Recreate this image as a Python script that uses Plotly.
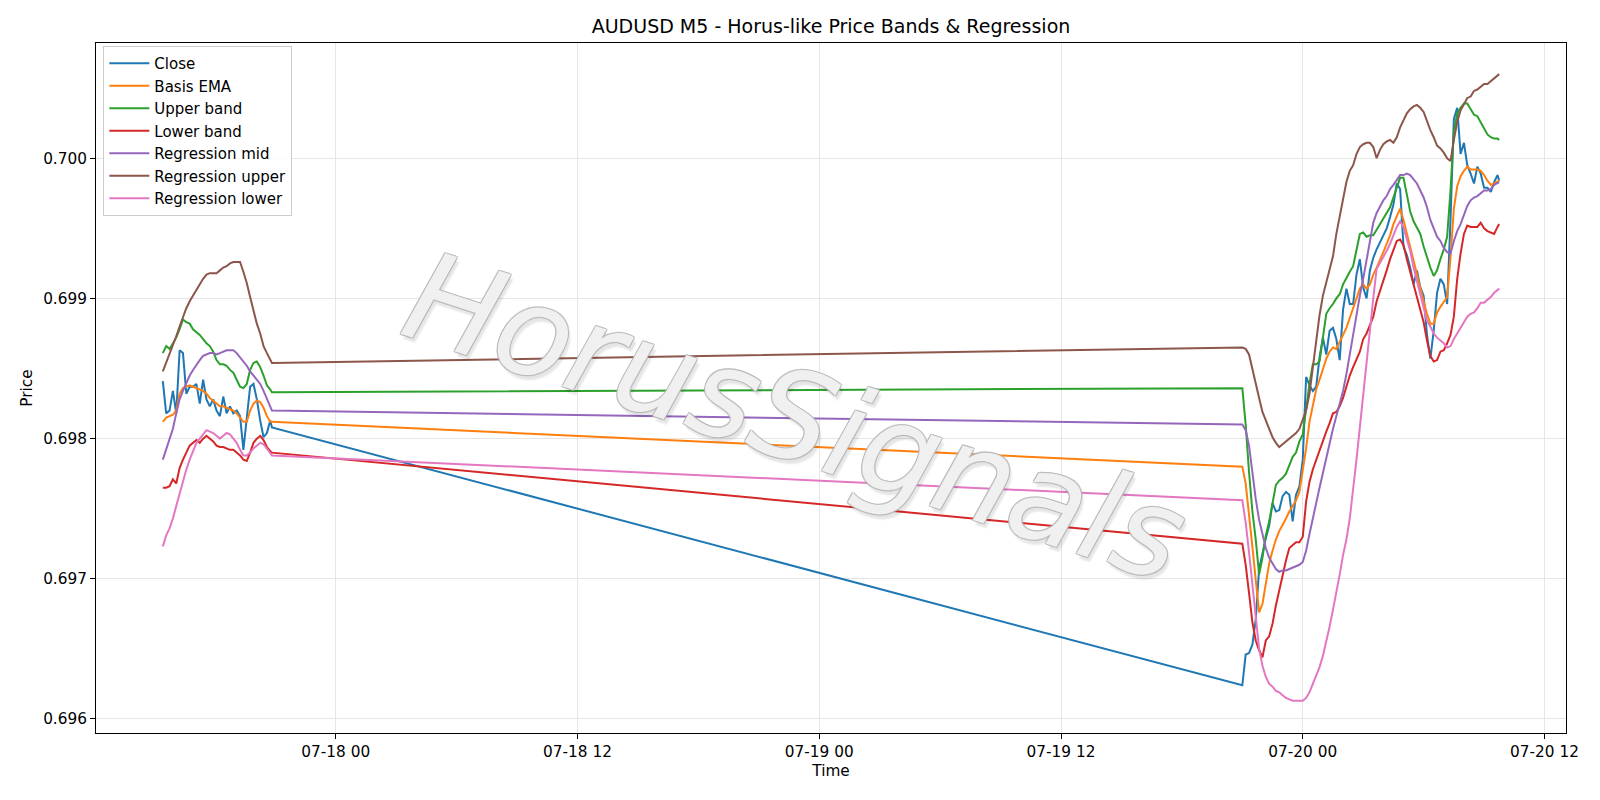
import pandas as pd
import plotly.graph_objects as go

# ---- time grid (M5 data sampled every 10 minutes) ----
t_left = list(pd.date_range("2020-07-17 15:25", "2020-07-17 20:45", freq="10min")) + [pd.Timestamp("2020-07-17 20:50")]
t_right = list(pd.date_range("2020-07-19 21:00", "2020-07-20 09:40", freq="10min")) + [pd.Timestamp("2020-07-20 09:45")]
times = t_left + t_right

close = [0.69841, 0.69818, 0.69820, 0.69834, 0.69818, 0.69863, 0.69861, 0.69832, 0.69837, 0.69837,
         0.69839, 0.69825, 0.69842, 0.69828, 0.69823, 0.69828, 0.69820, 0.69816, 0.69830, 0.69818,
         0.69823, 0.69818, 0.69820, 0.69816, 0.69792, 0.69813, 0.69837, 0.69839, 0.69828, 0.69813,
         0.69801, 0.69804, 0.69813, 0.69808,
         0.69624, 0.69646, 0.69647, 0.69653, 0.69671, 0.69707, 0.69719, 0.69729, 0.69738, 0.69754,
         0.69748, 0.69749, 0.69759, 0.69762, 0.69760, 0.69741, 0.69760, 0.69766,
         0.69785, 0.69844, 0.69838, 0.69834, 0.69837, 0.69858, 0.69872, 0.69860, 0.69877, 0.69879,
         0.69871, 0.69856, 0.69892, 0.69907, 0.69896, 0.69896, 0.69917, 0.69928, 0.69908, 0.69900,
         0.69920, 0.69929, 0.69935, 0.69940, 0.69944, 0.69950, 0.69958, 0.69967, 0.69982, 0.69978,
         0.69937, 0.69931, 0.69922, 0.69910, 0.69920, 0.69908, 0.69902, 0.69874, 0.69857, 0.69877,
         0.69904, 0.69914, 0.69910, 0.69896, 0.69956, 0.70028, 0.70036, 0.70003, 0.70011, 0.69995,
         0.69989, 0.69982, 0.69994, 0.69989, 0.69979, 0.69979, 0.69976, 0.69983, 0.69988, 0.69984]

basis_ema = [0.69812, 0.69815, 0.69816, 0.69817, 0.69820, 0.69832, 0.69836, 0.69837, 0.69838, 0.69837,
             0.69836, 0.69835, 0.69834, 0.69832, 0.69829, 0.69827, 0.69825, 0.69823, 0.69823, 0.69822,
             0.69821, 0.69820, 0.69818, 0.69815, 0.69812, 0.69812, 0.69820, 0.69825, 0.69827, 0.69826,
             0.69822, 0.69816, 0.69812, 0.69812,
             0.69780, 0.69768, 0.69747, 0.69723, 0.69699, 0.69676, 0.69682, 0.69697, 0.69711, 0.69720,
             0.69728, 0.69734, 0.69738, 0.69743, 0.69748, 0.69752, 0.69756, 0.69762,
             0.69776, 0.69793, 0.69812, 0.69824, 0.69835, 0.69842, 0.69849, 0.69857, 0.69862, 0.69865,
             0.69864, 0.69869, 0.69874, 0.69879, 0.69886, 0.69893, 0.69900, 0.69907, 0.69910, 0.69907,
             0.69910, 0.69917, 0.69922, 0.69927, 0.69933, 0.69939, 0.69945, 0.69953, 0.69959, 0.69964,
             0.69956, 0.69946, 0.69936, 0.69927, 0.69917, 0.69908, 0.69898, 0.69889, 0.69882, 0.69882,
             0.69890, 0.69894, 0.69898, 0.69901, 0.69929, 0.69964, 0.69980, 0.69987, 0.69991, 0.69994,
             0.69992, 0.69992, 0.69992, 0.69991, 0.69988, 0.69984, 0.69981, 0.69982, 0.69983, 0.69984]

upper_band = [0.69861, 0.69866, 0.69864, 0.69868, 0.69872, 0.69878, 0.69885, 0.69883, 0.69882, 0.69878,
              0.69876, 0.69874, 0.69871, 0.69868, 0.69866, 0.69862, 0.69856, 0.69853, 0.69853, 0.69852,
              0.69849, 0.69847, 0.69842, 0.69837, 0.69836, 0.69839, 0.69849, 0.69854, 0.69855, 0.69851,
              0.69845, 0.69838, 0.69835, 0.69833,
              0.69836, 0.69810, 0.69776, 0.69748, 0.69728, 0.69703, 0.69715, 0.69731, 0.69741, 0.69755,
              0.69767, 0.69770, 0.69772, 0.69775, 0.69781, 0.69787, 0.69790, 0.69798,
              0.69803, 0.69822, 0.69839, 0.69853, 0.69853, 0.69855, 0.69873, 0.69889, 0.69893, 0.69896,
              0.69900, 0.69903, 0.69910, 0.69915, 0.69919, 0.69923, 0.69934, 0.69946, 0.69947, 0.69944,
              0.69945, 0.69945, 0.69949, 0.69953, 0.69956, 0.69960, 0.69965, 0.69972, 0.69979, 0.69986,
              0.69986, 0.69973, 0.69962, 0.69955, 0.69950, 0.69946, 0.69937, 0.69929, 0.69922, 0.69916,
              0.69920, 0.69928, 0.69935, 0.69944, 0.69977, 0.70019, 0.70032, 0.70036, 0.70039, 0.70039,
              0.70035, 0.70031, 0.70030, 0.70026, 0.70022, 0.70017, 0.70015, 0.70014, 0.70014, 0.70013]

lower_band = [0.69765, 0.69765, 0.69766, 0.69771, 0.69768, 0.69779, 0.69785, 0.69790, 0.69795, 0.69797,
              0.69799, 0.69797, 0.69800, 0.69802, 0.69800, 0.69798, 0.69795, 0.69794, 0.69794, 0.69793,
              0.69792, 0.69792, 0.69790, 0.69788, 0.69785, 0.69784, 0.69790, 0.69797, 0.69800, 0.69802,
              0.69799, 0.69794, 0.69791, 0.69790,
              0.69725, 0.69710, 0.69690, 0.69669, 0.69656, 0.69649, 0.69644, 0.69656, 0.69659, 0.69668,
              0.69681, 0.69692, 0.69703, 0.69713, 0.69722, 0.69724, 0.69726, 0.69726,
              0.69730, 0.69755, 0.69769, 0.69778, 0.69785, 0.69792, 0.69799, 0.69805, 0.69811, 0.69818,
              0.69819, 0.69823, 0.69829, 0.69837, 0.69845, 0.69851, 0.69856, 0.69862, 0.69871, 0.69875,
              0.69881, 0.69887, 0.69898, 0.69905, 0.69912, 0.69920, 0.69928, 0.69935, 0.69941, 0.69942,
              0.69938, 0.69928, 0.69919, 0.69909, 0.69900, 0.69891, 0.69883, 0.69870, 0.69859, 0.69855,
              0.69856, 0.69862, 0.69863, 0.69868, 0.69874, 0.69887, 0.69914, 0.69932, 0.69946, 0.69952,
              0.69951, 0.69951, 0.69951, 0.69954, 0.69950, 0.69948, 0.69947, 0.69946, 0.69951, 0.69953]

reg_mid = [0.69785, 0.69792, 0.69799, 0.69807, 0.69818, 0.69828, 0.69834, 0.69840, 0.69845, 0.69849,
           0.69853, 0.69856, 0.69859, 0.69860, 0.69861, 0.69861, 0.69860, 0.69861, 0.69862, 0.69863,
           0.69863, 0.69863, 0.69861, 0.69858, 0.69855, 0.69852, 0.69848, 0.69845, 0.69842, 0.69839,
           0.69834, 0.69828, 0.69823, 0.69820,
           0.69810, 0.69806, 0.69795, 0.69774, 0.69757, 0.69742, 0.69731, 0.69722, 0.69715, 0.69711,
           0.69707, 0.69705, 0.69706, 0.69706, 0.69707, 0.69708, 0.69709, 0.69710,
           0.69712, 0.69720, 0.69732, 0.69744, 0.69754, 0.69765, 0.69776, 0.69786, 0.69796, 0.69807,
           0.69816, 0.69825, 0.69834, 0.69846, 0.69860, 0.69876, 0.69890, 0.69902, 0.69914, 0.69928,
           0.69942, 0.69954, 0.69961, 0.69966, 0.69970, 0.69973, 0.69978, 0.69981, 0.69985, 0.69988,
           0.69988, 0.69989, 0.69988, 0.69985, 0.69982, 0.69977, 0.69972, 0.69965, 0.69956, 0.69950,
           0.69944, 0.69941, 0.69936, 0.69933, 0.69932, 0.69941, 0.69948, 0.69953, 0.69960, 0.69966,
           0.69970, 0.69972, 0.69973, 0.69975, 0.69977, 0.69977, 0.69978, 0.69981, 0.69982, 0.69983]

reg_upper = [0.69848, 0.69854, 0.69861, 0.69867, 0.69873, 0.69880, 0.69887, 0.69893, 0.69898, 0.69902,
             0.69907, 0.69911, 0.69914, 0.69917, 0.69918, 0.69918, 0.69918, 0.69920, 0.69922, 0.69923,
             0.69925, 0.69926, 0.69926, 0.69926, 0.69919, 0.69911, 0.69901, 0.69891, 0.69882, 0.69875,
             0.69866, 0.69861, 0.69856, 0.69854,
             0.69865, 0.69864, 0.69860, 0.69849, 0.69840, 0.69829, 0.69819, 0.69813, 0.69806, 0.69801,
             0.69797, 0.69794, 0.69796, 0.69798, 0.69800, 0.69802, 0.69804, 0.69807,
             0.69813, 0.69820, 0.69832, 0.69852, 0.69872, 0.69888, 0.69902, 0.69911, 0.69920, 0.69930,
             0.69946, 0.69959, 0.69972, 0.69983, 0.69991, 0.69995, 0.70003, 0.70008, 0.70010, 0.70011,
             0.70011, 0.70008, 0.70000, 0.70006, 0.70010, 0.70012, 0.70013, 0.70011, 0.70015, 0.70022,
             0.70027, 0.70032, 0.70035, 0.70037, 0.70038, 0.70036, 0.70033, 0.70026, 0.70020, 0.70015,
             0.70009, 0.70007, 0.70004, 0.70000, 0.69998, 0.70013, 0.70026, 0.70034, 0.70039, 0.70043,
             0.70044, 0.70048, 0.70049, 0.70051, 0.70053, 0.70053, 0.70055, 0.70057, 0.70059, 0.70060]

reg_lower = [0.69723, 0.69731, 0.69736, 0.69743, 0.69752, 0.69761, 0.69771, 0.69778, 0.69785, 0.69791,
             0.69797, 0.69800, 0.69803, 0.69806, 0.69805, 0.69804, 0.69802, 0.69800, 0.69802, 0.69804,
             0.69803, 0.69800, 0.69797, 0.69792, 0.69788, 0.69788, 0.69790, 0.69793, 0.69795, 0.69797,
             0.69796, 0.69793, 0.69790, 0.69788,
             0.69756, 0.69740, 0.69719, 0.69697, 0.69671, 0.69650, 0.69638, 0.69630, 0.69625, 0.69623,
             0.69620, 0.69619, 0.69617, 0.69615, 0.69614, 0.69613, 0.69613, 0.69613,
             0.69613, 0.69615, 0.69619, 0.69625, 0.69631, 0.69637, 0.69645, 0.69655, 0.69666, 0.69678,
             0.69690, 0.69703, 0.69717, 0.69728, 0.69743, 0.69763, 0.69785, 0.69808, 0.69832, 0.69856,
             0.69878, 0.69900, 0.69921, 0.69925, 0.69929, 0.69934, 0.69939, 0.69945, 0.69951, 0.69955,
             0.69951, 0.69942, 0.69934, 0.69922, 0.69912, 0.69903, 0.69893, 0.69884, 0.69880, 0.69875,
             0.69872, 0.69870, 0.69868, 0.69865, 0.69866, 0.69871, 0.69875, 0.69879, 0.69883, 0.69887,
             0.69889, 0.69890, 0.69893, 0.69897, 0.69897, 0.69899, 0.69901, 0.69904, 0.69906, 0.69907]

series_names = ["Close", "Basis EMA", "Upper band", "Lower band",
                "Regression mid", "Regression upper", "Regression lower"]
series_values = [close, basis_ema, upper_band, lower_band, reg_mid, reg_upper, reg_lower]
series_colors = ["#1f77b4", "#ff7f0e", "#2ca02c", "#d62728", "#9467bd", "#8c564b", "#e377c2"]

x_ticks = ["2020-07-18 00:00", "2020-07-18 12:00", "2020-07-19 00:00",
           "2020-07-19 12:00", "2020-07-20 00:00", "2020-07-20 12:00"]
x_ticklabels = ["07-18 00", "07-18 12", "07-19 00", "07-19 12", "07-20 00", "07-20 12"]
y_ticks = [0.696, 0.697, 0.698, 0.699, 0.700]

FONT = "DejaVu Sans"
FS = 15.3

fig = go.Figure()
for name, vals, col in zip(series_names, series_values, series_colors):
    fig.add_trace(go.Scatter(x=times, y=vals, mode="lines", name=name,
                             legendgroup=name,
                             line=dict(color=col, width=2)))

fig.update_layout(
    width=1600, height=800,
    margin=dict(l=96, r=34, t=43, b=67),
    paper_bgcolor="white", plot_bgcolor="white",
    font=dict(family=FONT, size=FS, color="black"),
    title=dict(text="AUDUSD M5 - Horus-like Price Bands & Regression",
               x=0.5, xref="paper", xanchor="center",
               y=1 - 26.5 / 800, yref="container", yanchor="middle",
               font=dict(family=FONT, size=19, color="black")),
    showlegend=True,
    legend=dict(x=0.005, y=0.9955, xanchor="left", yanchor="top",
                bgcolor="rgba(255,255,255,0.85)", bordercolor="#cccccc", borderwidth=1,
                font=dict(family=FONT, size=15), tracegroupgap=0,
                itemwidth=40),
)

fig.update_xaxes(
    type="date",
    range=["2020-07-17 12:06", "2020-07-20 13:04"],
    tickmode="array", tickvals=x_ticks, ticktext=x_ticklabels,
    showgrid=True, gridcolor="#e6e6e6", gridwidth=1,
    showline=True, linecolor="black", linewidth=1, mirror=True,
    ticks="outside", ticklen=5, tickwidth=1, tickcolor="black",
    tickfont=dict(family=FONT, size=FS),
    title=dict(text="Time", font=dict(family=FONT, size=FS), standoff=4),
    zeroline=False,
)
fig.update_yaxes(
    range=[0.6959, 0.700822],
    tickmode="array", tickvals=y_ticks, ticktext=[f"{v:.3f}" for v in y_ticks],
    showgrid=True, gridcolor="#e6e6e6", gridwidth=1,
    showline=True, linecolor="black", linewidth=1, mirror=True,
    ticks="outside", ticklen=5, tickwidth=1, tickcolor="black",
    tickfont=dict(family=FONT, size=FS),
    title=dict(text="Price", font=dict(family=FONT, size=FS), standoff=6),
    zeroline=False,
)

# watermark
fig.add_annotation(
    text="HorusSignals", xref="paper", yref="paper", x=0.476, y=0.458,
    showarrow=False, textangle=18,
    font=dict(family=FONT, size=124, color="rgba(255,255,255,0.8)", style="italic",
              shadow="1px 1px 0 #b5b5b5, -1px -1px 0 #b5b5b5, 1px -1px 0 #b5b5b5, -1px 1px 0 #b5b5b5, 4px 4px 2px rgba(0,0,0,0.13)"),
)

fig.write_html("out.html")
